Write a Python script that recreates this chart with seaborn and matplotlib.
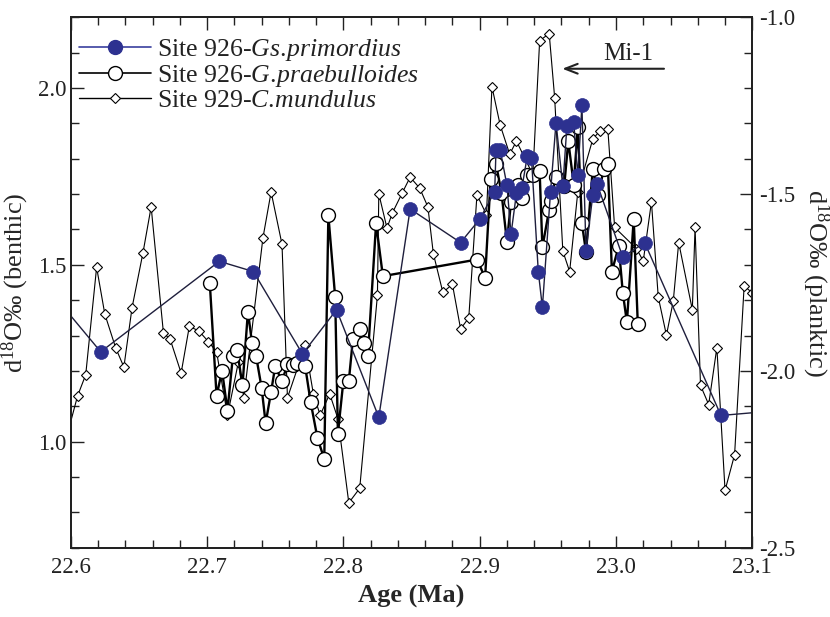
import matplotlib
matplotlib.use("Agg")
import matplotlib.pyplot as plt
from matplotlib.lines import Line2D
from matplotlib.ticker import MultipleLocator, FormatStrFormatter
import seaborn as sns
import pandas as pd

# Site 929 benthic record (C. mundulus), d18O in per mil
benthic_age = [22.595, 22.605, 22.611, 22.619, 22.625, 22.633, 22.639, 22.645, 22.653, 22.659,
               22.668, 22.673, 22.681, 22.687, 22.694, 22.701, 22.707, 22.715, 22.723, 22.727,
               22.741, 22.747, 22.755, 22.759, 22.772, 22.778, 22.783, 22.790, 22.796, 22.804,
               22.812, 22.825, 22.826, 22.832, 22.836, 22.843, 22.849, 22.856, 22.862, 22.866,
               22.873, 22.880, 22.886, 22.892, 22.898, 22.905, 22.909, 22.915, 22.922, 22.927,
               22.939, 22.944, 22.951, 22.955, 22.961, 22.966, 22.972, 22.983, 22.988, 22.994,
               22.999, 23.015, 23.020, 23.026, 23.031, 23.037, 23.042, 23.046, 23.056, 23.058,
               23.062, 23.068, 23.074, 23.080, 23.087, 23.094, 23.100]
benthic_d18o = [0.984, 1.129, 1.189, 1.493, 1.361, 1.265, 1.211, 1.379, 1.534, 1.664,
                1.308, 1.289, 1.194, 1.326, 1.313, 1.283, 1.254, 1.074, 1.225, 1.124,
                1.576, 1.706, 1.558, 1.124, 1.272, 1.135, 1.075, 1.135, 1.065, 0.827,
                0.868, 1.414, 1.701, 1.604, 1.647, 1.702, 1.748, 1.717, 1.664, 1.532,
                1.422, 1.445, 1.319, 1.350, 1.698, 1.642, 2.004, 1.896, 1.813, 1.850,
                1.755, 2.134, 2.154, 1.973, 1.539, 1.481, 1.707, 1.856, 1.878, 1.885,
                1.606, 1.546, 1.511, 1.678, 1.409, 1.301, 1.397, 1.563, 1.373, 1.606,
                1.159, 1.105, 1.266, 0.862, 0.963, 1.440, 1.421]

# Site 926 planktic record (Gs. primordius)
primordius_age = [22.592, 22.622, 22.709, 22.734, 22.770, 22.795, 22.826, 22.849, 22.886, 22.900,
                  22.911, 22.912, 22.915, 22.920, 22.923, 22.927, 22.931, 22.935, 22.938, 22.943,
                  22.946, 22.952, 22.956, 22.961, 22.964, 22.969, 22.972, 22.975, 22.978, 22.983,
                  22.986, 23.005, 23.021, 23.077, 23.110]
primordius_d18o = [-1.807, -1.946, -1.690, -1.719, -1.952, -1.827, -2.131, -1.542, -1.637, -1.571,
                   -1.493, -1.374, -1.374, -1.475, -1.613, -1.497, -1.482, -1.391, -1.398, -1.719,
                   -1.820, -1.493, -1.298, -1.478, -1.307, -1.296, -1.447, -1.249, -1.661, -1.502,
                   -1.470, -1.678, -1.637, -2.126, -2.115]

# Site 926 planktic record (G. praebulloides)
praebulloides_age = [22.702, 22.707, 22.711, 22.715, 22.719, 22.722, 22.726, 22.730, 22.733, 22.736,
                     22.740, 22.743, 22.747, 22.750, 22.755, 22.759, 22.763, 22.766, 22.772, 22.776,
                     22.781, 22.786, 22.789, 22.794, 22.796, 22.800, 22.804, 22.807, 22.812, 22.815,
                     22.818, 22.824, 22.829, 22.898, 22.904, 22.908, 22.912, 22.916, 22.920, 22.923,
                     22.928, 22.931, 22.935, 22.939, 22.944, 22.946, 22.951, 22.952, 22.956, 22.962,
                     22.965, 22.969, 22.972, 22.975, 22.978, 22.983, 22.987, 22.991, 22.994, 22.997,
                     23.002, 23.005, 23.008, 23.013, 23.016]
praebulloides_d18o = [-1.750, -2.071, -1.999, -2.112, -1.957, -1.940, -2.041, -1.832, -1.921, -1.958,
                      -2.047, -2.148, -2.059, -1.987, -2.029, -1.981, -1.982, -1.977, -1.987, -2.088,
                      -2.190, -2.249, -1.560, -1.791, -2.177, -2.029, -2.029, -1.910, -1.882, -1.922,
                      -1.958, -1.583, -1.732, -1.685, -1.736, -1.458, -1.415, -1.496, -1.635, -1.522,
                      -1.475, -1.512, -1.445, -1.445, -1.436, -1.650, -1.544, -1.520, -1.451, -1.478,
                      -1.350, -1.473, -1.309, -1.582, -1.664, -1.428, -1.502, -1.430, -1.415, -1.719,
                      -1.647, -1.779, -1.862, -1.570, -1.868]

# "\!" cancels the gap mathtext adds after a period
series_labels = ["Site 926-$\\mathit{Gs.\\!primordius}$",
                 "Site 926-$\\mathit{G.\\!praebulloides}$",
                 "Site 929-$\\mathit{C.\\!mundulus}$"]

NAVY = "#2d3190"
INK = "#222222"

sns.set_style("ticks")
plt.rcParams["font.family"] = ["Liberation Serif", "DejaVu Serif"]
plt.rcParams["mathtext.fontset"] = "custom"
plt.rcParams["mathtext.rm"] = "Liberation Serif"
plt.rcParams["mathtext.it"] = "Liberation Serif:italic"
plt.rcParams["mathtext.bf"] = "Liberation Serif:bold"
plt.rcParams["axes.unicode_minus"] = False

benthic = pd.DataFrame({"age": benthic_age, "d18o": benthic_d18o})
prim = pd.DataFrame({"age": primordius_age, "d18o": primordius_d18o})
prae = pd.DataFrame({"age": praebulloides_age, "d18o": praebulloides_d18o})

fig = plt.figure(figsize=(8.3, 6.17), dpi=100)
ax = fig.add_axes([0.0852, 0.1123, 0.8212, 0.8596])
ax2 = ax.twinx()

# benthic curve on the left axis
sns.lineplot(data=benthic, x="age", y="d18o", ax=ax, estimator=None, sort=False,
             color="black", linewidth=0.8, marker="D", markersize=4.8,
             markerfacecolor="white", markeredgecolor="black", markeredgewidth=0.8)

# planktic curves on the right axis
sns.lineplot(data=prae, x="age", y="d18o", ax=ax2, estimator=None, sort=False,
             color="black", linewidth=1.7, marker="o", markersize=10,
             markerfacecolor="white", markeredgecolor="black", markeredgewidth=1.0)
sns.lineplot(data=prim, x="age", y="d18o", ax=ax2, estimator=None, sort=False,
             color="#1e1e3c", linewidth=1.0, marker="o", markersize=10,
             markerfacecolor=NAVY, markeredgecolor=NAVY, markeredgewidth=0.5)

ax.set_xlim(22.6, 23.1)
ax.set_ylim(0.70, 2.20)
ax2.set_ylim(-2.5, -1.0)

ax.xaxis.set_major_locator(MultipleLocator(0.1))
ax.xaxis.set_minor_locator(MultipleLocator(0.02))
ax.xaxis.set_major_formatter(FormatStrFormatter("%.1f"))
ax.yaxis.set_major_locator(MultipleLocator(0.5))
ax.yaxis.set_minor_locator(MultipleLocator(0.1))
ax.yaxis.set_major_formatter(FormatStrFormatter("%.1f"))
ax2.yaxis.set_major_locator(MultipleLocator(0.5))
ax2.yaxis.set_minor_locator(MultipleLocator(0.1))
ax2.yaxis.set_major_formatter(FormatStrFormatter("%.1f"))

ax.tick_params(axis="both", which="both", direction="in", top=True, right=False,
               width=1.0, labelsize=16.5, colors=INK)
ax.tick_params(axis="both", which="major", length=9)
ax.tick_params(axis="both", which="minor", length=5.5)
ax.tick_params(axis="x", pad=7)
ax.tick_params(axis="y", pad=3)
ax2.tick_params(axis="y", which="both", direction="in", right=True, width=1.0,
                labelsize=16.5, colors=INK, pad=5)
ax2.tick_params(axis="y", which="major", length=9)
ax2.tick_params(axis="y", which="minor", length=5.5)

for a in (ax, ax2):
    for s in a.spines.values():
        s.set_linewidth(1.4)
        s.set_color(INK)

ax.set_xlabel("Age (Ma)", fontsize=19, fontweight="bold", labelpad=5)
ax.set_ylabel("d$^{18}$O‰ (benthic)", fontsize=19, labelpad=5)
ax2.set_ylabel("d$^{18}$O‰ (planktic)", fontsize=19, rotation=270, labelpad=26)

# Mi-1 event marker
ax.annotate("", xy=(22.9606, 2.0546), xytext=(23.0352, 2.0546),
            arrowprops=dict(arrowstyle="->,head_length=0.9,head_width=0.35",
                            lw=1.5, color=INK, shrinkA=0, shrinkB=0))
ax.text(23.009, 2.097, "Mi-1", fontsize=18, ha="center", va="center", color=INK)

handles = [
    Line2D([], [], color="#3a3f9e", lw=1.2, marker="o", markersize=10,
           markerfacecolor=NAVY, markeredgecolor=NAVY),
    Line2D([], [], color="black", lw=1.2, marker="o", markersize=10,
           markerfacecolor="white", markeredgecolor="black"),
    Line2D([], [], color="black", lw=1.0, marker="D", markersize=4.8,
           markerfacecolor="white", markeredgecolor="black", markeredgewidth=0.8),
]
leg = ax2.legend(handles, series_labels, loc="upper left", bbox_to_anchor=(0.012, 0.962),
                 frameon=False, fontsize=18.5, handlelength=2.8, handletextpad=0.25,
                 labelspacing=0.0, borderpad=0.0, borderaxespad=0.0)
for t in leg.get_texts():
    t.set_color(INK)

fig.savefig("out.png", dpi=100)
